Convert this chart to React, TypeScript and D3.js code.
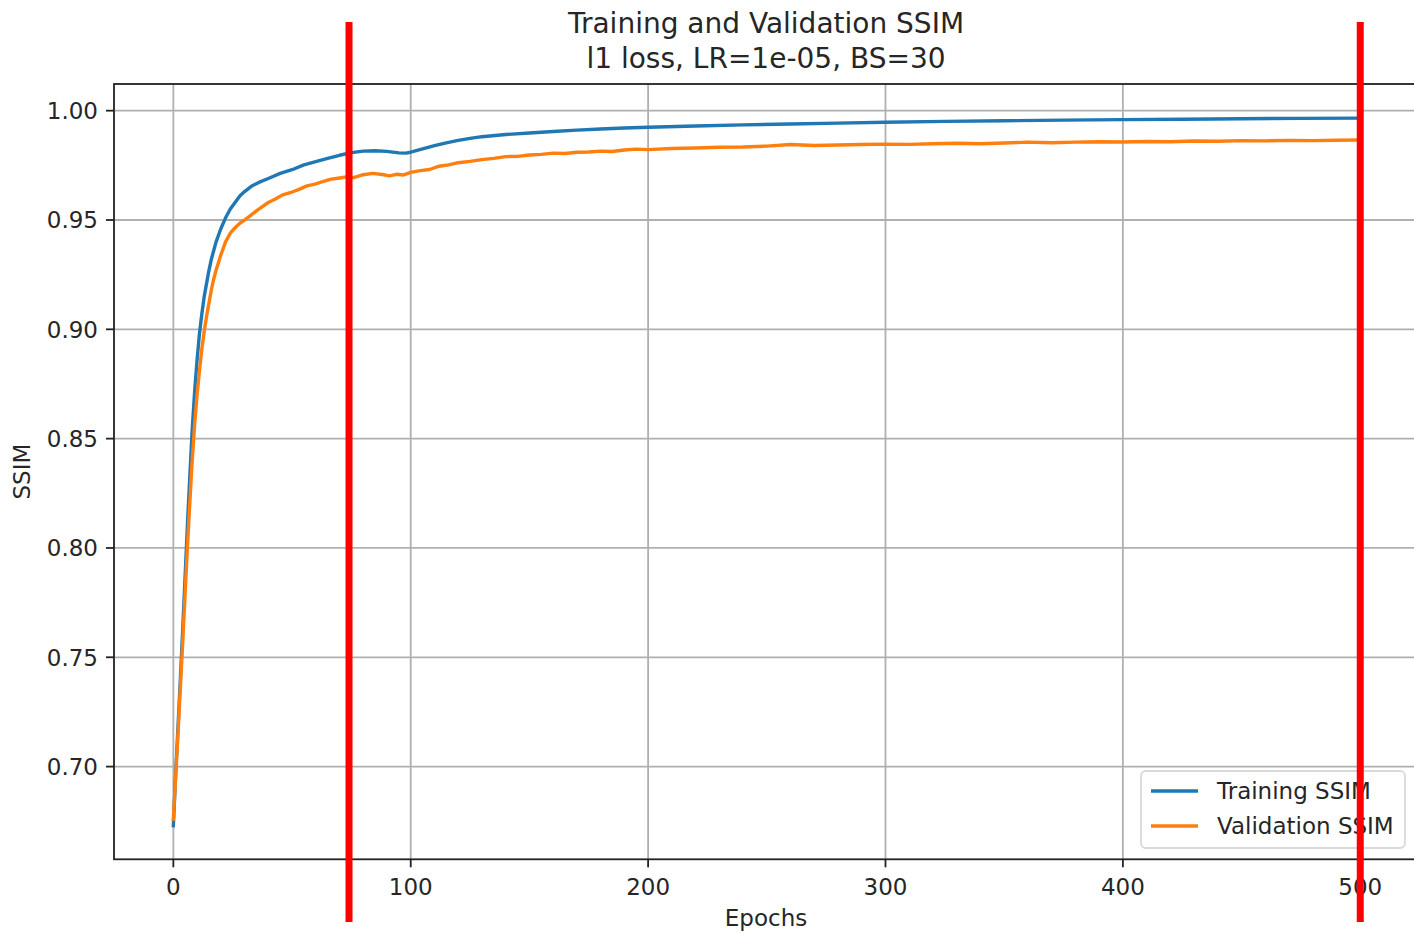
import { useEffect, useRef } from "react";
import * as d3 from "d3";

const trainEpochs = [
  0, 1, 2, 3, 4, 5, 6, 7, 8, 9, 10, 11, 12, 13, 14, 15, 16, 18, 20, 22, 24, 26,
  28, 30, 33, 36, 40, 45, 50, 55, 60, 65, 70, 75, 80, 85, 90, 95, 98, 100, 105,
  110, 115, 120, 125, 130, 140, 150, 160, 170, 180, 190, 200, 220, 240, 260,
  280, 300, 325, 350, 375, 400, 425, 450, 475, 499,
];
const trainSSIM = [
  0.673, 0.697, 0.719, 0.741, 0.764, 0.788, 0.812, 0.834, 0.855, 0.872, 0.886,
  0.898, 0.907, 0.915, 0.921, 0.927, 0.932, 0.94, 0.946, 0.951, 0.955, 0.958,
  0.961, 0.963, 0.9655, 0.9672, 0.969, 0.9713, 0.973, 0.9752, 0.9767, 0.9782,
  0.9796, 0.9808, 0.9815, 0.9817, 0.9814, 0.9807, 0.9806, 0.981, 0.9825,
  0.984, 0.9853, 0.9864, 0.9873, 0.9881, 0.9891, 0.9898, 0.9905, 0.9911,
  0.9916, 0.9921, 0.9924, 0.993, 0.9935, 0.9939, 0.9943, 0.9947, 0.9951,
  0.9954, 0.9957, 0.9959, 0.9961, 0.9963, 0.9965, 0.9966,
];

const valEpochs = [
  0, 1, 2, 3, 4, 5, 6, 7, 8, 9, 10, 11, 12, 13, 14, 15, 16, 17, 18, 20, 22, 24,
  26, 28, 30, 33, 36, 40, 43, 46, 50, 53, 56, 60, 63, 66, 70, 73, 76, 80, 84,
  88, 91, 94, 97, 100, 104, 108, 112, 116, 120, 125, 130, 135, 140, 145, 150,
  155, 160, 165, 170, 175, 180, 185, 190, 195, 200, 210, 220, 230, 240, 250,
  260, 270, 280, 290, 300, 310, 320, 330, 340, 350, 360, 370, 380, 390, 400,
  410, 420, 430, 440, 450, 460, 470, 480, 490, 499,
];
const valSSIM = [
  0.676, 0.696, 0.716, 0.737, 0.758, 0.78, 0.802, 0.822, 0.841, 0.857, 0.87,
  0.881, 0.891, 0.899, 0.906, 0.912, 0.918, 0.923, 0.927, 0.934, 0.94, 0.944,
  0.9465, 0.9485, 0.95, 0.9525, 0.955, 0.958, 0.9596, 0.9615, 0.9628, 0.964,
  0.9655, 0.9665, 0.9676, 0.9686, 0.9692, 0.9697, 0.9694, 0.9707, 0.9713,
  0.9708, 0.9702, 0.9709, 0.9706, 0.9718, 0.9726, 0.9731, 0.9746, 0.9752,
  0.9762, 0.9768, 0.9776, 0.9782, 0.979, 0.9791, 0.9797, 0.98, 0.9806,
  0.9804, 0.981, 0.9811, 0.9815, 0.9813, 0.982, 0.9824, 0.9822, 0.9827,
  0.9829, 0.9833, 0.9834, 0.9838, 0.9845, 0.9841, 0.9843, 0.9845, 0.9847,
  0.9846, 0.9849, 0.9851, 0.9849, 0.9852, 0.9856, 0.9853, 0.9856, 0.9858,
  0.9857, 0.9859, 0.9858, 0.9861, 0.986, 0.9863, 0.9862, 0.9864, 0.9863,
  0.9865, 0.9866,
];

const xTicks = [0, 100, 200, 300, 400, 500];
const yTicks = [0.7, 0.75, 0.8, 0.85, 0.9, 0.95, 1.0];
const markerEpochs = [74, 500]; // red vertical markers drawn on top

const seriesNames = ["Training SSIM", "Validation SSIM"];
const seriesColors = ["#1f77b4", "#ff7f0e"];

export default function App() {
  const ref = useRef<SVGSVGElement>(null);

  useEffect(() => {
    const width = 1414;
    const height = 933;
    const svg = d3.select(ref.current);
    svg.selectAll("*").remove();
    svg.attr("width", width).attr("height", height);

    const font = "DejaVu Sans, sans-serif";
    const textColor = "#262626";
    const fs = 23;

    // Axes box (right spine sits just outside the crop, as in the picture)
    const left = 114;
    const right = 1419.6;
    const top = 84;
    const bottom = 859.3;

    const x = d3.scaleLinear().domain([-25, 525]).range([left, right]);
    const y = d3.scaleLinear().domain([0.6576, 1.0122]).range([bottom, top]);

    svg.append("rect").attr("width", width).attr("height", height).attr("fill", "#fff");

    // Grid
    const grid = svg.append("g").attr("stroke", "#b0b0b0").attr("stroke-width", 1.8);
    xTicks.forEach((t) => {
      grid.append("line").attr("x1", x(t)).attr("x2", x(t)).attr("y1", top).attr("y2", bottom);
    });
    yTicks.forEach((t) => {
      grid.append("line").attr("x1", left).attr("x2", right).attr("y1", y(t)).attr("y2", y(t));
    });

    // Lines
    const line = d3
      .line<[number, number]>()
      .x((d) => x(d[0]))
      .y((d) => y(d[1]));

    const trainData = trainEpochs.map((e, i) => [e, trainSSIM[i]] as [number, number]);
    const valData = valEpochs.map((e, i) => [e, valSSIM[i]] as [number, number]);

    [trainData, valData].forEach((data, i) => {
      svg
        .append("path")
        .datum(data)
        .attr("fill", "none")
        .attr("stroke", seriesColors[i])
        .attr("stroke-width", 3.4)
        .attr("stroke-linejoin", "round")
        .attr("stroke-linecap", "square")
        .attr("d", line);
    });

    // Spines
    svg
      .append("rect")
      .attr("x", left)
      .attr("y", top)
      .attr("width", right - left)
      .attr("height", bottom - top)
      .attr("fill", "none")
      .attr("stroke", "#222")
      .attr("stroke-width", 1.8);

    // X ticks
    xTicks.forEach((t) => {
      svg
        .append("line")
        .attr("x1", x(t))
        .attr("x2", x(t))
        .attr("y1", bottom)
        .attr("y2", bottom + 8)
        .attr("stroke", "#222")
        .attr("stroke-width", 1.8);
      svg
        .append("text")
        .attr("x", x(t))
        .attr("y", bottom + 36)
        .attr("text-anchor", "middle")
        .attr("font-family", font)
        .attr("font-size", fs)
        .attr("fill", textColor)
        .text(String(t));
    });

    // Y ticks
    yTicks.forEach((t) => {
      svg
        .append("line")
        .attr("x1", left - 8)
        .attr("x2", left)
        .attr("y1", y(t))
        .attr("y2", y(t))
        .attr("stroke", "#222")
        .attr("stroke-width", 1.8);
      svg
        .append("text")
        .attr("x", left - 16)
        .attr("y", y(t))
        .attr("dy", "0.36em")
        .attr("text-anchor", "end")
        .attr("font-family", font)
        .attr("font-size", fs)
        .attr("fill", textColor)
        .text(t.toFixed(2));
    });

    // Axis labels
    svg
      .append("text")
      .attr("x", 766)
      .attr("y", 926)
      .attr("text-anchor", "middle")
      .attr("font-family", font)
      .attr("font-size", fs)
      .attr("fill", textColor)
      .text("Epochs");

    svg
      .append("text")
      .attr("transform", `translate(30,${(top + bottom) / 2}) rotate(-90)`)
      .attr("text-anchor", "middle")
      .attr("font-family", font)
      .attr("font-size", fs)
      .attr("fill", textColor)
      .text("SSIM");

    // Title
    const title = svg
      .append("text")
      .attr("text-anchor", "middle")
      .attr("font-family", font)
      .attr("font-size", 28)
      .attr("fill", textColor);
    title.append("tspan").attr("x", 766).attr("y", 33).text("Training and Validation SSIM");
    title.append("tspan").attr("x", 766).attr("y", 68).text("l1 loss, LR=1e-05, BS=30");

    // Legend
    const lg = svg.append("g").attr("transform", "translate(1141,771)");
    lg.append("rect")
      .attr("width", 264)
      .attr("height", 77)
      .attr("rx", 5)
      .attr("fill", "#fff")
      .attr("fill-opacity", 0.8)
      .attr("stroke", "#d9d9d9")
      .attr("stroke-width", 1.8);
    seriesNames.forEach((name, i) => {
      const cy = 20 + i * 35;
      lg.append("line")
        .attr("x1", 10)
        .attr("x2", 57)
        .attr("y1", cy)
        .attr("y2", cy)
        .attr("stroke", seriesColors[i])
        .attr("stroke-width", 3.4);
      lg.append("text")
        .attr("x", 76)
        .attr("y", cy)
        .attr("dy", "0.36em")
        .attr("font-family", font)
        .attr("font-size", fs)
        .attr("fill", textColor)
        .text(name);
    });

    // Red markers
    markerEpochs.forEach((e) => {
      svg
        .append("rect")
        .attr("x", x(e) - 3.5)
        .attr("y", 22)
        .attr("width", 7)
        .attr("height", 900)
        .attr("fill", "#ff0000");
    });
  }, []);

  return <svg ref={ref} style={{ position: "absolute", left: 0, top: 0 }}></svg>;
}
